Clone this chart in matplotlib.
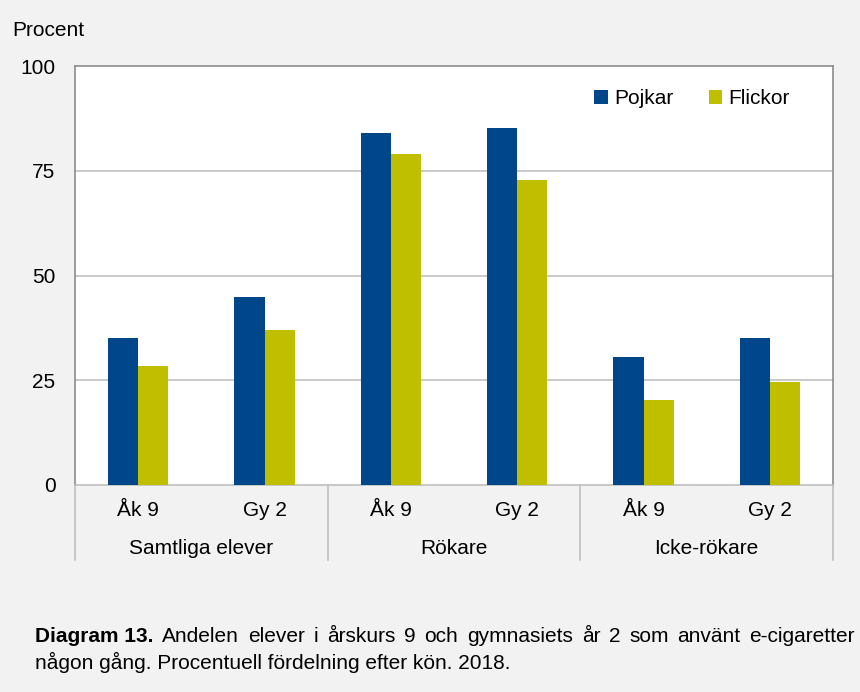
import matplotlib
matplotlib.use("Agg")
import matplotlib.pyplot as plt
import numpy as np

plt.rcParams['font.family'] = ['Liberation Sans', 'DejaVu Sans']

groups = ["Samtliga elever", "Rökare", "Icke-rökare"]
subcats = ["Åk 9", "Gy 2", "Åk 9", "Gy 2", "Åk 9", "Gy 2"]
pojkar = [35.2, 44.8, 84.1, 85.1, 30.6, 35.0]
flickor = [28.5, 37.0, 79.1, 72.8, 20.4, 24.5]
series_names = ["Pojkar", "Flickor"]
colors = ["#00468b", "#bfbf00"]
yticks = [0, 25, 50, 75, 100]

FS = 15
W, H = 860, 692
fig = plt.figure(figsize=(W/100, H/100), dpi=100, facecolor="#f2f2f2")
L, R, T, B = 75, 833, 66, 485
ax = fig.add_axes([L/W, 1-B/H, (R-L)/W, (B-T)/H])
ax.set_facecolor("white")

x = np.arange(len(subcats))
bw = 0.238
ax.bar(x - bw/2, pojkar, bw, color=colors[0], label=series_names[0], zorder=3)
ax.bar(x + bw/2, flickor, bw, color=colors[1], label=series_names[1], zorder=3)

ax.set_xlim(-0.5, len(subcats)-0.5)
ax.set_ylim(0, 100)
ax.set_yticks(yticks)
ax.set_yticklabels([str(v) for v in yticks], fontsize=FS)
ax.tick_params(axis='y', length=0, pad=14)
ax.set_xticks([])
for v in yticks[1:-1]:
    ax.axhline(v, color="#c0c0c0", lw=1.2, zorder=1)
for s in ax.spines.values():
    s.set_color("#8c8c8c")
    s.set_linewidth(1.2)
ax.spines['bottom'].set_color("#bfbfbf")

trans = ax.get_xaxis_transform()
for i, lab in enumerate(subcats):
    ax.text(i, -26/(B-T), lab, transform=trans, ha='center', va='center', fontsize=FS)
for g, lab in enumerate(groups):
    ax.text(2*g + 0.5, -64/(B-T), lab, transform=trans, ha='center', va='center', fontsize=FS)
for k in range(len(groups)+1):
    ax.plot([2*k - 0.5]*2, [0, -75/(B-T)], transform=trans, color="#bfbfbf", lw=1.2, clip_on=False)

fig.text(12/W, 1-31/H, "Procent", ha='left', va='center', fontsize=FS)

ax.legend(loc='upper right', bbox_to_anchor=(0.968, 0.99), ncol=2, frameon=False,
          fontsize=FS, handlelength=0.65, handleheight=0.65, handletextpad=0.3,
          columnspacing=1.7)

# Caption, first line justified between x=35 and x=855
fig.canvas.draw()
rend = fig.canvas.get_renderer()
words = [("Diagram 13.", 'bold')] + [(w, 'normal') for w in
         "Andelen elever i årskurs 9 och gymnasiets år 2 som använt e-cigaretter".split()]
tmp = []
for w, fw in words:
    t = fig.text(0, 0, w, fontsize=FS, fontweight=fw)
    tmp.append(t)
widths = [t.get_window_extent(rend).width for t in tmp]
for t in tmp:
    t.remove()
# "Diagram 13." contains a space internally; treat it as one block
x0, x1 = 35, 855
gap = (x1 - x0 - sum(widths)) / (len(words) - 1)
cx = x0
for (w, fw), wd in zip(words, widths):
    fig.text(cx/W, 1-637/H, w, ha='left', va='center', fontsize=FS, fontweight=fw)
    cx += wd + gap
fig.text(35/W, 1-662/H, "någon gång. Procentuell fördelning efter kön. 2018.",
         ha='left', va='center', fontsize=FS)

fig.savefig("out.png", dpi=100, facecolor=fig.get_facecolor())
